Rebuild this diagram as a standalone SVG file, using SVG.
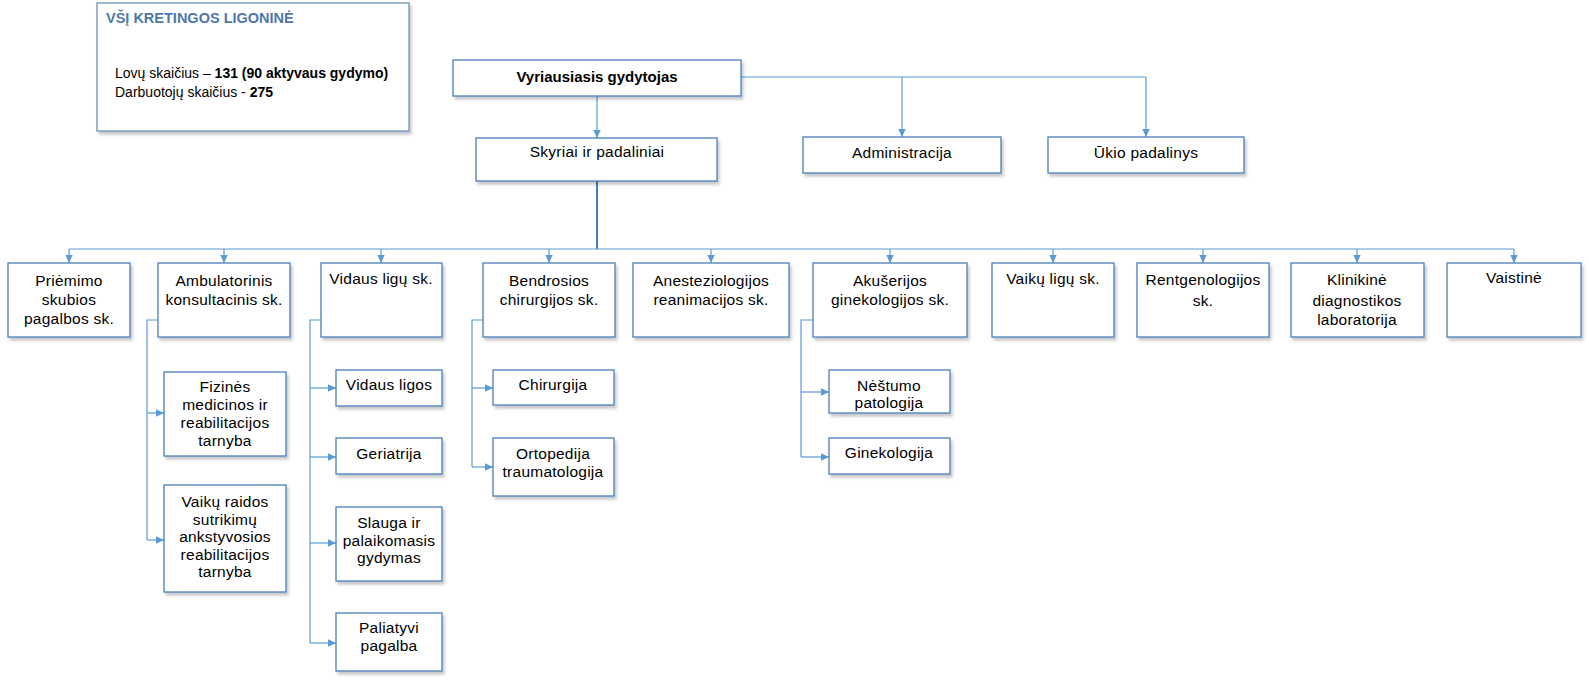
<svg xmlns="http://www.w3.org/2000/svg" width="1589" height="685" viewBox="0 0 1589 685">
<style>
.box{fill:#fff;stroke:#4a7ebb;stroke-width:1.3;filter:url(#sh)}
.t{font-family:"Liberation Sans",Arial,sans-serif;font-size:15.5px;letter-spacing:0.25px;fill:#000;text-anchor:middle}
.b{font-weight:bold;font-size:15px;letter-spacing:0}
.c{fill:none;stroke:#5b9bd5;stroke-width:1.2}
.main{fill:none;stroke:#4a7ebb;stroke-width:2}
.info{font-family:"Liberation Sans",Arial,sans-serif;font-size:14px;fill:#000}
.title{font-family:"Liberation Sans",Arial,sans-serif;font-size:14.5px;font-weight:bold;fill:#4f78a8}
</style>
<defs>
<filter id="sh" x="-10%" y="-10%" width="130%" height="140%">
<feDropShadow dx="2" dy="3" stdDeviation="1.8" flood-color="#000" flood-opacity="0.22"/>
</filter>
<marker id="ar" markerUnits="userSpaceOnUse" markerWidth="9" markerHeight="9" refX="8" refY="4" orient="auto">
<path d="M0,0.3 L8,4 L0,7.7 z" fill="#5b9bd5"/>
</marker>
</defs>
<rect width="1589" height="685" fill="#fff"/>

<g id="info">
<rect class="box" x="97" y="3" width="312" height="128" style="stroke:#6d8fb8"/>
<text class="title" x="106" y="23">VŠĮ KRETINGOS LIGONINĖ</text>
<text class="info" x="115" y="78">Lovų skaičius – <tspan font-weight="bold">131 (90 aktyvaus gydymo)</tspan></text>
<text class="info" x="115" y="97">Darbuotojų skaičius - <tspan font-weight="bold">275</tspan></text>
</g>

<g id="connectors">
<path class="c" d="M597,96 V138" marker-end="url(#ar)"/>
<path class="c" d="M741,77 H1146"/>
<path class="c" d="M902,77 V137" marker-end="url(#ar)"/>
<path class="c" d="M1146,77 V137" marker-end="url(#ar)"/>
<path class="main" d="M597,181 V249"/>
<path class="c" d="M69,249 H1514"/>
<path class="c" d="M69,249 V263" marker-end="url(#ar)"/>
<path class="c" d="M224,249 V263" marker-end="url(#ar)"/>
<path class="c" d="M381,249 V263" marker-end="url(#ar)"/>
<path class="c" d="M549,249 V263" marker-end="url(#ar)"/>
<path class="c" d="M711,249 V263" marker-end="url(#ar)"/>
<path class="c" d="M890,249 V263" marker-end="url(#ar)"/>
<path class="c" d="M1053,249 V263" marker-end="url(#ar)"/>
<path class="c" d="M1203,249 V263" marker-end="url(#ar)"/>
<path class="c" d="M1357,249 V263" marker-end="url(#ar)"/>
<path class="c" d="M1514,249 V263" marker-end="url(#ar)"/>
<path class="c" d="M158,320 H147 V540"/>
<path class="c" d="M147,413 H164" marker-end="url(#ar)"/>
<path class="c" d="M147,540 H164" marker-end="url(#ar)"/>
<path class="c" d="M321,320 H310 V643"/>
<path class="c" d="M310,388 H336" marker-end="url(#ar)"/>
<path class="c" d="M310,457 H336" marker-end="url(#ar)"/>
<path class="c" d="M310,543 H336" marker-end="url(#ar)"/>
<path class="c" d="M310,643 H336" marker-end="url(#ar)"/>
<path class="c" d="M483,320 H472 V467"/>
<path class="c" d="M472,388 H493" marker-end="url(#ar)"/>
<path class="c" d="M472,467 H493" marker-end="url(#ar)"/>
<path class="c" d="M813,320 H801 V457"/>
<path class="c" d="M801,392 H829" marker-end="url(#ar)"/>
<path class="c" d="M801,457 H829" marker-end="url(#ar)"/>
</g>

<g id="vyriausiasis">
<rect class="box" x="453" y="60" width="288" height="36"/>
<text class="t b" x="597" y="82">Vyriausiasis gydytojas</text>
</g>
<g id="skyriai">
<rect class="box" x="476" y="138" width="241" height="43"/>
<text class="t" x="597" y="157">Skyriai ir padaliniai</text>
</g>
<g id="administracija">
<rect class="box" x="803" y="137" width="198" height="36"/>
<text class="t" x="902" y="158">Administracija</text>
</g>
<g id="ukio">
<rect class="box" x="1048" y="137" width="196" height="36"/>
<text class="t" x="1146" y="158">Ūkio padalinys</text>
</g>

<g id="priemimo">
<rect class="box" x="8" y="263" width="122" height="74"/>
<text class="t" x="69" y="286">Priėmimo</text>
<text class="t" x="69" y="305">skubios</text>
<text class="t" x="69" y="324">pagalbos sk.</text>
</g>
<g id="ambulatorinis">
<rect class="box" x="158" y="263" width="132" height="74"/>
<text class="t" x="224" y="286">Ambulatorinis</text>
<text class="t" x="224" y="305">konsultacinis sk.</text>
</g>
<g id="vidaus">
<rect class="box" x="321" y="263" width="121" height="74"/>
<text class="t" x="381" y="284">Vidaus ligų sk.</text>
</g>
<g id="bendrosios">
<rect class="box" x="483" y="263" width="132" height="74"/>
<text class="t" x="549" y="286">Bendrosios</text>
<text class="t" x="549" y="305">chirurgijos sk.</text>
</g>
<g id="anesteziologijos">
<rect class="box" x="633" y="263" width="156" height="74"/>
<text class="t" x="711" y="286">Anesteziologijos</text>
<text class="t" x="711" y="305">reanimacijos sk.</text>
</g>
<g id="akuserijos">
<rect class="box" x="813" y="263" width="154" height="74"/>
<text class="t" x="890" y="286">Akušerijos</text>
<text class="t" x="890" y="305">ginekologijos sk.</text>
</g>
<g id="vaiku">
<rect class="box" x="992" y="263" width="122" height="74"/>
<text class="t" x="1053" y="284">Vaikų ligų sk.</text>
</g>
<g id="rentgenologijos">
<rect class="box" x="1137" y="263" width="132" height="74"/>
<text class="t" x="1203" y="285">Rentgenologijos</text>
<text class="t" x="1203" y="306">sk.</text>
</g>
<g id="klinikine">
<rect class="box" x="1291" y="263" width="133" height="74"/>
<text class="t" x="1357" y="285">Klinikinė</text>
<text class="t" x="1357" y="306">diagnostikos</text>
<text class="t" x="1357" y="325">laboratorija</text>
</g>
<g id="vaistine">
<rect class="box" x="1447" y="263" width="134" height="74"/>
<text class="t" x="1514" y="283">Vaistinė</text>
</g>

<g id="fizines">
<rect class="box" x="164" y="372" width="122" height="84"/>
<text class="t" x="225" y="392">Fizinės</text>
<text class="t" x="225" y="410">medicinos ir</text>
<text class="t" x="225" y="428">reabilitacijos</text>
<text class="t" x="225" y="446">tarnyba</text>
</g>
<g id="vaiku-raidos">
<rect class="box" x="164" y="485" width="122" height="107"/>
<text class="t" x="225" y="507">Vaikų raidos</text>
<text class="t" x="225" y="525">sutrikimų</text>
<text class="t" x="225" y="542">ankstyvosios</text>
<text class="t" x="225" y="560">reabilitacijos</text>
<text class="t" x="225" y="577">tarnyba</text>
</g>
<g id="vidaus-ligos">
<rect class="box" x="336" y="370" width="106" height="36"/>
<text class="t" x="389" y="390">Vidaus ligos</text>
</g>
<g id="geriatrija">
<rect class="box" x="336" y="438" width="106" height="36"/>
<text class="t" x="389" y="459">Geriatrija</text>
</g>
<g id="slauga">
<rect class="box" x="336" y="507" width="106" height="74"/>
<text class="t" x="389" y="528">Slauga ir</text>
<text class="t" x="389" y="546">palaikomasis</text>
<text class="t" x="389" y="563">gydymas</text>
</g>
<g id="paliatyvi">
<rect class="box" x="336" y="613" width="106" height="58"/>
<text class="t" x="389" y="633">Paliatyvi</text>
<text class="t" x="389" y="651">pagalba</text>
</g>
<g id="chirurgija">
<rect class="box" x="493" y="370" width="121" height="35"/>
<text class="t" x="553" y="390">Chirurgija</text>
</g>
<g id="ortopedija">
<rect class="box" x="493" y="438" width="121" height="58"/>
<text class="t" x="553" y="459">Ortopedija</text>
<text class="t" x="553" y="477">traumatologija</text>
</g>
<g id="nestumo">
<rect class="box" x="829" y="370" width="121" height="43"/>
<text class="t" x="889" y="391">Nėštumo</text>
<text class="t" x="889" y="408">patologija</text>
</g>
<g id="ginekologija">
<rect class="box" x="829" y="438" width="121" height="36"/>
<text class="t" x="889" y="458">Ginekologija</text>
</g>
</svg>
